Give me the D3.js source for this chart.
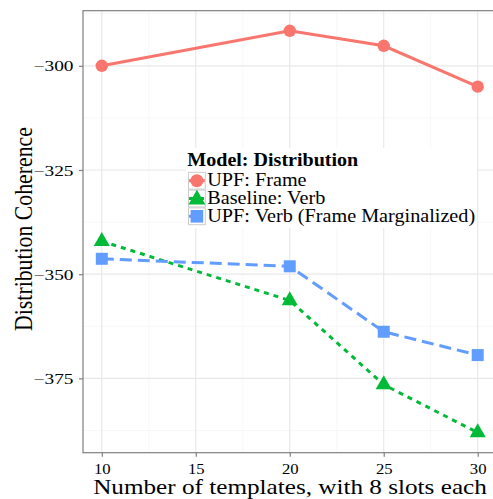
<!DOCTYPE html>
<html><head><meta charset="utf-8">
<script src="https://cdn.jsdelivr.net/npm/d3@7"></script>
<style>
html,body{margin:0;padding:0;background:#fff;}
svg{display:block;}
text{font-family:"Liberation Serif","Times New Roman",serif;}
</style></head>
<body>
<svg id="chart" width="493" height="499"></svg>
<script>
const templates = [10, 20, 25, 30];
const upfFrame = [-300.0, -291.6, -295.2, -305.0];
const baselineVerb = [-342.1, -356.3, -376.5, -388.0];
const upfVerbMarg = [-346.3, -348.1, -363.8, -369.4];
const seriesNames = ["UPF: Frame", "Baseline: Verb", "UPF: Verb (Frame Marginalized)"];
const xTicks = [10, 15, 20, 25, 30];
const yTicks = [-375, -350, -325, -300];
const legendTitle = "Model: Distribution";
const xTitle = "Number of templates, with 8 slots each";
const yTitle = "Distribution Coherence";

const colors = ["#F8766D", "#00BA38", "#619CFF"];
const dashes = [null, "5,5", "12,6"];
const shapes = ["circle", "triangle", "square"];
const seriesVals = [upfFrame, baselineVerb, upfVerbMarg];
const SERIF = '"Liberation Serif","Times New Roman",serif';

const svg = d3.select("#chart");
const L = 83, R = 496.5, T = 10.7, B = 452.7;

const xr = d3.extent(templates), xpad = (xr[1]-xr[0])*0.05;
const x = d3.scaleLinear().domain([xr[0]-xpad, xr[1]+xpad]).range([L, R]);
const allY = seriesVals.flat();
const yr = d3.extent(allY), ypad = (yr[1]-yr[0])*0.05;
const y = d3.scaleLinear().domain([yr[0]-ypad, yr[1]+ypad]).range([B, T]);

// horizontal stretch of a text around an anchor x so that its width matches a target
function stretch(sel, targetW, ax, ay) {
  const w = sel.node().getComputedTextLength();
  const k = targetW / w;
  sel.attr("transform", `translate(${ax},${ay}) scale(${k},1) translate(${-ax},${-ay})`);
  return k;
}

// panel
svg.append("rect").attr("x", L).attr("y", T).attr("width", R-L).attr("height", B-T).attr("fill", "#fff");
const xMinor = xTicks.slice(0,-1).map((d,i)=>(d+xTicks[i+1])/2);
const yMinor = [yTicks[0]-12.5].concat(yTicks.map(d=>d+12.5));
const g = svg.append("g");
g.selectAll(".xmin").data(xMinor).enter().append("line")
  .attr("x1", d=>x(d)).attr("x2", d=>x(d)).attr("y1", T).attr("y2", B)
  .attr("stroke", "#f7f7f7").attr("stroke-width", 1);
g.selectAll(".ymin").data(yMinor).enter().append("line")
  .attr("y1", d=>y(d)).attr("y2", d=>y(d)).attr("x1", L).attr("x2", R)
  .attr("stroke", "#f7f7f7").attr("stroke-width", 1);
g.selectAll(".xmaj").data(xTicks).enter().append("line")
  .attr("x1", d=>x(d)).attr("x2", d=>x(d)).attr("y1", T).attr("y2", B)
  .attr("stroke", "#e8e8e8").attr("stroke-width", 1.2);
g.selectAll(".ymaj").data(yTicks).enter().append("line")
  .attr("y1", d=>y(d)).attr("y2", d=>y(d)).attr("x1", L).attr("x2", R)
  .attr("stroke", "#e8e8e8").attr("stroke-width", 1.2);

// lines
const line = d3.line().x(d=>x(d[0])).y(d=>y(d[1]));
seriesVals.forEach((vals, i) => {
  const pts = templates.map((t, j) => [t, vals[j]]);
  svg.append("path").datum(pts).attr("d", line)
    .attr("fill", "none").attr("stroke", colors[i]).attr("stroke-width", 3)
    .attr("stroke-dasharray", dashes[i]);
});

function drawShape(sel, shape, cx, cy, color, s) {
  if (shape === "circle") {
    sel.append("circle").attr("cx", cx).attr("cy", cy).attr("r", 6.2*s).attr("fill", color);
  } else if (shape === "triangle") {
    const r = 9.3*s, xc = r*0.866, yc = r*0.5;
    sel.append("path").attr("d", `M${cx},${cy-r}L${cx+xc},${cy+yc}L${cx-xc},${cy+yc}Z`).attr("fill", color);
  } else {
    const h = 6*s;
    sel.append("rect").attr("x", cx-h).attr("y", cy-h).attr("width", 2*h).attr("height", 2*h).attr("fill", color);
  }
}
seriesVals.forEach((vals, i) => {
  templates.forEach((t, j) => drawShape(svg, shapes[i], x(t), y(vals[j]), colors[i], 1));
});

// border
svg.append("rect").attr("x", L).attr("y", T).attr("width", R-L).attr("height", B-T)
  .attr("fill", "none").attr("stroke", "#7f7f7f").attr("stroke-width", 1.2);

// axes
const xAxis = svg.append("g").attr("transform", `translate(0,${B})`)
  .attr("font-family", SERIF)
  .call(d3.axisBottom(x).tickValues(xTicks).tickSize(4).tickFormat(d3.format("d")));
const yAxis = svg.append("g").attr("transform", `translate(${L},0)`)
  .attr("font-family", SERIF)
  .call(d3.axisLeft(y).tickValues(yTicks).tickSize(4).tickPadding(5.5).tickFormat(d=>"\u2212"+Math.abs(d)));
[xAxis, yAxis].forEach(a => {
  a.attr("font-family", SERIF);
  a.select(".domain").remove();
  a.selectAll(".tick line").attr("stroke", "#7f7f7f").attr("stroke-width", 1.2);
  a.selectAll(".tick text").attr("fill", "#000").attr("font-size", 15).style("font-size", "15px")
    .style("font-family", SERIF);
});
xAxis.selectAll(".tick text").attr("y", 21.3).attr("dy", 0).each(function() {
  stretch(d3.select(this), 16.7 * this.getComputedTextLength() / 15, 0, 0);
});
yAxis.selectAll(".tick text").attr("dy", "0.34em").each(function() {
  const s = d3.select(this);
  stretch(s, 40 * this.getComputedTextLength() / 31, -9.5, 0);
});

// titles
const xt = svg.append("text").attr("x", 290).attr("y", 493.7).attr("text-anchor", "middle")
  .style("font-size", "20.5px").text(xTitle);
stretch(xt, 394, 290, 493.7);
const yt = svg.append("text").attr("text-anchor", "middle")
  .style("font-size", "21.8px").text(yTitle)
  .attr("transform", `translate(32,229) scale(1.2,1) rotate(-90)`);

// legend
const lg = svg.append("g");
lg.append("rect").attr("x", 186).attr("y", 148).attr("width", 291).attr("height", 80).attr("fill", "#fff");
const lt = lg.append("text").attr("x", 187.3).attr("y", 165.7).style("font-size", "18px").style("font-weight", "bold").text(legendTitle);
stretch(lt, 171, 187.3, 165.7);
const keyX = 188, keyY0 = 171.8, keyS = 17.8;
const labels = [];
seriesNames.forEach((name, i) => {
  const ky = keyY0 + i*keyS;
  lg.append("rect").attr("x", keyX+0.5).attr("y", ky+0.5).attr("width", keyS-1).attr("height", keyS-1)
    .attr("fill", "#fff").attr("stroke", "#cccccc").attr("stroke-width", 1);
  lg.append("line").attr("x1", keyX+1).attr("x2", keyX+keyS-1).attr("y1", ky+keyS/2).attr("y2", ky+keyS/2)
    .attr("stroke", colors[i]).attr("stroke-width", 3).attr("stroke-dasharray", dashes[i]);
  drawShape(lg, shapes[i], keyX+keyS/2, ky+keyS/2 + (shapes[i]==="triangle"?1:0), colors[i], 1.05);
  labels.push(lg.append("text").attr("x", 207.3).attr("y", ky + 14.2).style("font-size", "18.5px").text(name));
});
const longest = labels[2].node().getComputedTextLength();
const kLab = 268 / longest;
labels.forEach((t, i) => {
  const ty = +t.attr("y");
  t.attr("transform", `translate(207.3,${ty}) scale(${kLab},1) translate(-207.3,${-ty})`);
});
</script>
</body></html>
